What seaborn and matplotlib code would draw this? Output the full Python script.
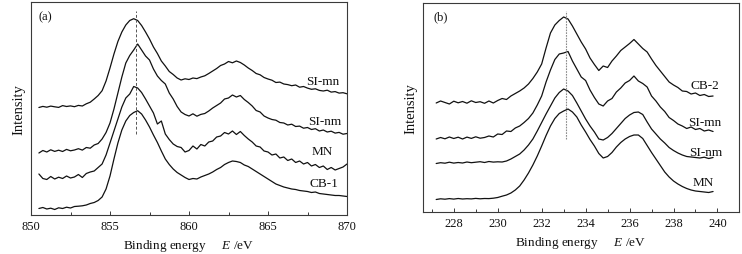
import numpy as np
import pandas as pd
import matplotlib
matplotlib.use("Agg")
import matplotlib.pyplot as plt
from matplotlib.ticker import MultipleLocator
import seaborn as sns

# ---------------- data: panel (a), Ni 2p region ----------------
a_start, a_step = 850.5, 0.25
a_si_mn = [107.5,108.6,107.8,108.9,108.2,107.6,109.4,108.5,109.1,108.3,
           109.6,109.0,111.2,112.8,116.0,119.5,124.3,134.0,147.0,161.0,
           173.5,183.0,190.0,194.5,196.3,194.5,189.5,183.0,176.0,168.0,
           161.5,154.0,149.0,143.5,140.5,137.0,135.0,136.2,135.5,137.0,
           136.4,138.0,139.2,141.5,144.0,146.5,149.5,151.0,153.5,152.2,
           154.0,152.5,150.0,147.0,144.5,141.5,140.2,137.5,136.0,134.8,
           132.5,132.9,131.0,130.4,129.3,130.0,127.8,128.5,126.9,125.7,
           126.2,124.6,124.0,124.8,122.9,123.4,121.9,122.3,121.2]
a_si_nm = [62.0,64.5,63.0,65.2,63.6,64.8,63.5,65.6,64.2,65.0,
           66.3,64.9,67.5,66.8,70.0,71.5,76.0,82.5,92.0,106.0,
           122.0,138.0,152.0,159.5,165.0,171.0,165.0,159.0,155.0,146.0,
           139.0,134.5,131.0,122.0,116.0,108.5,103.0,100.5,99.0,101.2,
           98.8,100.6,101.5,104.0,107.0,109.5,112.0,116.0,117.0,120.0,
           118.0,119.5,115.5,112.5,109.0,104.5,103.0,99.0,97.0,95.5,
           94.8,92.5,92.0,90.0,90.8,88.5,88.9,86.8,87.5,85.5,
           86.3,84.0,85.0,83.0,83.8,81.9,82.6,80.8,81.5]
a_mn = [41.0,36.5,35.5,38.5,36.0,37.8,36.5,39.0,37.0,38.0,
        40.5,37.5,41.5,43.0,44.0,47.5,51.0,60.0,72.0,84.0,
        96.0,108.0,117.0,121.0,128.5,127.0,122.5,116.0,109.0,102.0,
        91.0,94.0,81.0,75.5,71.0,68.5,67.5,63.0,64.5,69.0,
        66.0,70.5,69.0,73.0,74.0,78.0,79.0,82.5,81.0,84.0,
        80.5,83.5,79.5,76.0,73.0,69.0,68.0,64.0,63.0,60.0,
        61.0,57.0,58.0,54.5,56.0,52.5,54.0,51.0,52.5,49.0,
        50.5,47.5,49.0,45.5,47.5,45.0,46.5,48.0,51.0]
a_cb1 = [6.5,7.5,6.0,6.8,5.5,7.2,6.5,7.8,7.0,8.5,
         8.8,9.2,10.0,11.5,12.5,14.5,18.0,26.0,39.0,56.0,
         72.0,85.0,94.0,99.5,102.5,104.3,101.0,95.0,88.0,80.0,
         72.5,64.0,56.0,50.5,46.0,42.5,40.0,37.5,35.5,36.5,
         36.0,38.0,39.5,41.0,43.0,45.5,47.5,50.5,52.5,54.0,
         53.5,52.5,50.0,48.5,46.0,43.5,41.0,38.5,36.0,33.5,
         31.0,29.5,28.0,27.0,26.0,25.5,24.5,24.0,23.5,22.5,
         23.0,21.5,21.0,20.5,20.0,19.5,19.5,19.0,18.5]
a_names = ["SI-mn", "SI-nm", "MN", "CB-1"]
a_series = [a_si_mn, a_si_nm, a_mn, a_cb1]
a_label_x = [868.45, 868.6, 868.42, 868.53]
a_label_y = [134.0, 94.3, 63.5, 32.0]
a_ref_x = 856.65
a_ref_y = (81.0, 204.3)

# ---------------- data: panel (b), Mo 3d region ----------------
b_start, b_step = 227.2, 0.2
b_cb2 = [109.0,111.0,109.5,108.0,110.8,109.2,110.5,108.8,111.2,109.5,
         110.3,108.7,111.0,109.0,111.5,113.5,112.5,116.0,118.5,121.0,
         124.0,128.0,133.5,140.0,148.0,164.0,179.0,187.0,191.5,195.0,
         193.0,186.0,178.0,170.0,163.0,154.0,147.5,141.5,146.0,144.5,
         151.0,156.0,161.5,165.0,168.5,172.5,168.0,163.5,160.0,153.0,
         146.5,141.0,135.5,130.0,127.0,124.5,121.0,120.5,118.0,119.0,
         116.5,117.5,115.5,116.0]
b_si_mn = [73.0,74.5,73.2,75.0,73.5,74.8,73.0,74.9,73.6,75.2,
           73.8,74.5,76.0,75.0,78.0,77.5,81.0,80.5,84.0,86.0,
           89.5,93.5,99.0,107.0,116.0,130.0,142.0,152.5,158.0,159.0,
           160.5,151.0,143.0,135.0,131.5,122.0,114.5,108.0,106.0,111.0,
           113.5,120.0,124.0,129.0,131.5,136.0,131.0,128.5,125.0,116.0,
           111.0,105.0,100.5,94.5,91.5,88.0,86.0,83.5,85.0,82.5,
           83.5,81.0,82.0,80.5]
b_si_nm = [48.5,49.3,48.8,49.8,48.9,49.5,49.0,50.0,49.3,49.8,
           50.3,49.5,50.5,49.9,50.2,50.0,51.0,53.0,55.5,58.0,
           62.0,67.0,73.0,81.0,89.5,98.0,106.0,114.0,119.5,123.0,
           121.0,116.5,109.0,101.0,93.0,86.0,80.0,73.0,72.0,74.5,
           78.5,83.5,88.5,93.5,97.0,99.5,100.0,97.5,90.0,83.0,
           78.0,73.0,69.0,64.5,61.5,59.0,57.0,55.5,55.0,54.5,
           54.0,54.8,53.5,54.5]
b_mn = [12.5,13.2,12.8,13.4,12.9,13.5,13.0,13.3,13.1,13.6,
        13.2,13.5,13.4,13.8,14.5,15.8,17.0,19.0,22.0,26.0,
        32.0,39.0,47.0,56.0,66.0,76.5,86.0,93.5,98.5,101.0,
        103.0,100.0,95.0,87.0,80.0,72.5,66.0,58.5,54.0,55.5,
        59.5,65.0,69.5,73.0,75.5,77.0,77.0,73.5,66.5,59.5,
        53.0,46.5,40.0,35.0,31.0,28.0,25.5,23.5,22.0,21.0,
        20.5,20.0,19.5,20.5]
b_names = ["CB-2", "SI-mn", "SI-nm", "MN"]
b_series = [b_cb2, b_si_mn, b_si_nm, b_mn]
b_label_x = [239.42, 239.44, 239.45, 239.37]
b_label_y = [127.0, 90.5, 60.5, 30.5]
b_ref_x = 233.13
b_ref_y = (73.0, 201.3)

# ---------------- styling ----------------
sns.set_style("ticks")
plt.rcParams["font.family"] = ["Liberation Serif", "DejaVu Serif"]
plt.rcParams["mathtext.fontset"] = "custom"
plt.rcParams["mathtext.rm"] = "Liberation Serif"
plt.rcParams["mathtext.it"] = "Liberation Serif:italic"

fig = plt.figure(figsize=(7.42, 2.55), dpi=100)
W, H = 742, 255
ax_a = fig.add_axes([31 / W, 1 - 216 / H, 316 / W, 213 / H])
ax_b = fig.add_axes([423 / W, 1 - 213 / H, 316 / W, 209.5 / H])

line_col = "#111111"
spine_col = "#3a3a3a"


def draw_panel(ax, start, step, series, names, lx, ly, ref_x, ref_y, ref_style):
    frames = []
    for name, vals in zip(names, series):
        x = start + step * np.arange(len(vals))
        frames.append(pd.DataFrame({"E": x, "I": vals, "s": name}))
    df = pd.concat(frames, ignore_index=True)
    for name in names:
        sns.lineplot(data=df[df["s"] == name], x="E", y="I", ax=ax,
                     color=line_col, linewidth=0.9, estimator=None,
                     legend=False)
    ax.plot([ref_x, ref_x], list(ref_y), **ref_style)
    for name, x, y in zip(names, lx, ly):
        ax.text(x, y, name, ha="center", va="center", fontsize=9.5,
                color="#111111")
    for sp in ax.spines.values():
        sp.set_visible(True)
        sp.set_color(spine_col)
        sp.set_linewidth(0.8)
    ax.tick_params(axis="x", which="both", direction="in", top=False,
                   bottom=True, colors=spine_col, labelcolor="#111111",
                   labelsize=9, pad=3.5)
    ax.tick_params(axis="x", which="major", length=3, width=0.7)
    ax.tick_params(axis="x", which="minor", length=2, width=0.7)
    ax.tick_params(axis="y", which="both", left=False, right=False,
                   labelleft=False)
    ax.set_xlabel(r"Binding energy     $E$ /eV", fontsize=9.5, labelpad=4,
                  color="#111111")
    ax.set_ylabel("Intensity", fontsize=10.5, labelpad=4, color="#111111")


draw_panel(ax_a, a_start, a_step, a_series, a_names, a_label_x, a_label_y,
           a_ref_x, a_ref_y,
           dict(color="#555555", linewidth=0.7, linestyle=(0, (3, 2))))
ax_a.set_xlim(850, 870)
ax_a.set_ylim(0, 213)
ax_a.xaxis.set_major_locator(MultipleLocator(5))
ax_a.xaxis.set_minor_locator(MultipleLocator(2.5))
ax_a.text(0.044, 0.932, "(a)", transform=ax_a.transAxes, ha="center",
          va="center", fontsize=9, color="#111111")

draw_panel(ax_b, b_start, b_step, b_series, b_names, b_label_x, b_label_y,
           b_ref_x, b_ref_y,
           dict(color="#8a8a8a", linewidth=0.8, linestyle=(0, (1.5, 1))))
ax_b.set_xlim(226.6, 240.98)
ax_b.set_ylim(0, 209.5)
ax_b.xaxis.set_major_locator(MultipleLocator(2))
ax_b.xaxis.set_minor_locator(MultipleLocator(1))
ax_b.text(0.055, 0.933, "(b)", transform=ax_b.transAxes, ha="center",
          va="center", fontsize=9, color="#111111")

fig.savefig("out.png", dpi=100)
